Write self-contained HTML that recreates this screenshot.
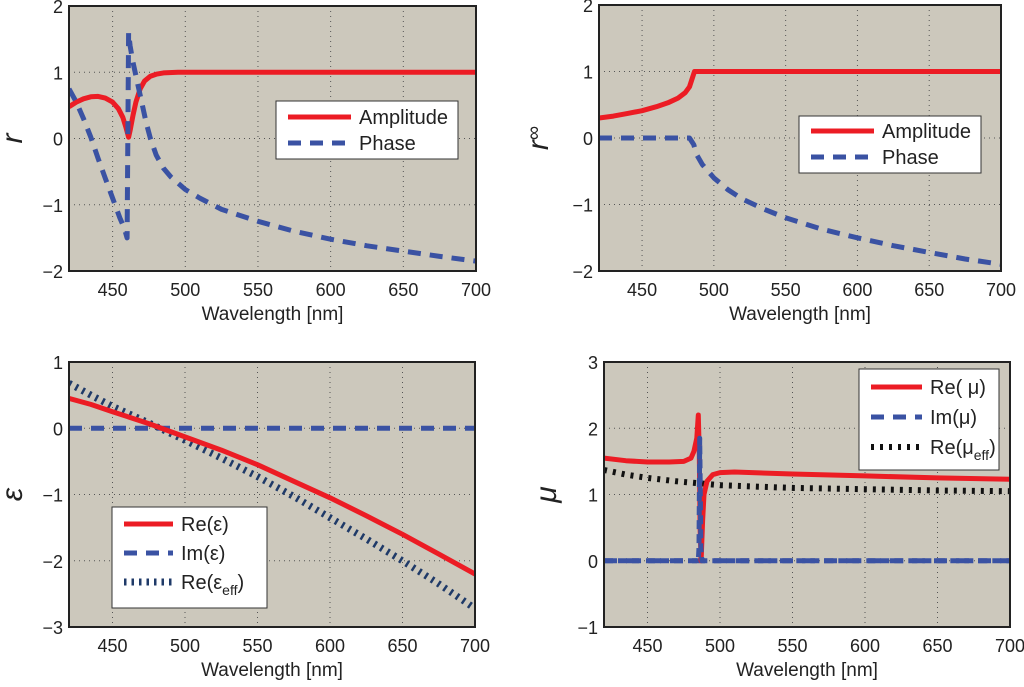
<!DOCTYPE html>
<html><head><meta charset="utf-8"><style>
body{margin:0;background:#fff;font-family:"Liberation Sans",sans-serif}
svg text{font-family:"Liberation Sans","DejaVu Sans",sans-serif;fill:#222}
</style></head><body>
<svg id="fig" width="1024" height="682" viewBox="0 0 1024 682" xmlns="http://www.w3.org/2000/svg"></svg>
<script>
// ---- data ----
const tlAmpX=[420,425,430,435,440,445,450,454,457,459,461,462,464,466,469,472,476,480,485,495,700];
const tlAmpY=[0.48,0.55,0.6,0.63,0.635,0.61,0.55,0.45,0.32,0.18,0.02,0.12,0.35,0.55,0.75,0.87,0.94,0.97,0.99,1,1];
const tlPhX=[420,425,430,435,440,445,450,455,458,460,461,462,464,467,470,473,476,480,485,490,500,510,525,550,575,600,625,650,675,700];
const tlPhY=[0.75,0.55,0.3,0.02,-0.3,-0.6,-0.9,-1.2,-1.35,-1.5,1.6,1.4,1.15,0.85,0.55,0.25,0.0,-0.25,-0.45,-0.58,-0.77,-0.9,-1.07,-1.25,-1.4,-1.52,-1.62,-1.7,-1.78,-1.85];
const trAmpX=[420,430,440,450,460,468,475,480,483,485,486.5,700];
const trAmpY=[0.3,0.33,0.37,0.41,0.47,0.53,0.6,0.68,0.77,0.9,1,1];
const trPhX=[420,483,486,488,492,500,510,520,535,550,575,600,625,650,675,700];
const trPhY=[0,0,-0.1,-0.25,-0.4,-0.6,-0.78,-0.92,-1.07,-1.2,-1.37,-1.5,-1.62,-1.72,-1.82,-1.9];
const blReX=[420,435,450,475,500,525,550,575,600,625,650,675,700];
const blReY=[0.45,0.36,0.25,0.07,-0.13,-0.33,-0.55,-0.8,-1.05,-1.32,-1.6,-1.9,-2.2];
const blImX=[420,700];
const blImY=[0,0];
const blEffX=[420,435,450,475,500,525,550,575,600,625,650,675,700];
const blEffY=[0.68,0.5,0.33,0.08,-0.18,-0.45,-0.73,-1.03,-1.35,-1.67,-2.0,-2.35,-2.72];
const brReX=[420,435,450,465,475,480,482,484,485,485.7,486.3,487,488,489,491,495,500,510,550,600,650,700];
const brReY=[1.55,1.51,1.49,1.49,1.5,1.55,1.65,1.85,2.2,1.6,0.5,0.0,0.6,1.0,1.2,1.3,1.33,1.34,1.31,1.28,1.25,1.23];
const brImX=[420,485,485.5,486,486.8,487.5,700];
const brImY=[0,0,0.2,1.85,0.2,0,0];
const brEffX=[420,435,450,470,485,500,525,550,600,650,700];
const brEffY=[1.37,1.3,1.25,1.2,1.17,1.14,1.12,1.1,1.08,1.06,1.05];
const xTicks=[450,500,550,600,650,700];

const NS="http://www.w3.org/2000/svg";
const svg=document.getElementById('fig');
function mk(tag,attrs,parent){const e=document.createElementNS(NS,tag);for(const k in attrs)e.setAttribute(k,attrs[k]);(parent||svg).appendChild(e);return e;}
const RED={stroke:'#ec1c24','stroke-width':5};
const BLUE={stroke:'#3a52a3','stroke-width':5,'stroke-dasharray':'13,9'};
const NAVY={stroke:'#1f3a68','stroke-width':7,'stroke-dasharray':'2.5,5'};
const BLACK={stroke:'#111','stroke-width':6,'stroke-dasharray':'3,6'};

function panel(id,L,R,T,B,ymin,ymax,yticks,series,legend,ylab){
  const g=mk('g',{});
  
  
  const sx=v=>L+(v-420)/(700-420)*(R-L);
  const sy=v=>T+(ymax-v)/(ymax-ymin)*(B-T);
  mk('rect',{x:L,y:T,width:R-L,height:B-T,fill:'#ccc8bc'},g);
  xTicks.forEach(t=>{const x=sx(t);if(t<700){const l=mk('line',{x1:x,x2:x,y1:T,y2:B,stroke:'#555','stroke-width':1,'stroke-dasharray':'1,4'},g);}
    const tx=mk('text',{x:x,y:B+25,'font-size':18,'text-anchor':'middle'},g);tx.textContent=t;
    });
  yticks.forEach(t=>{const y=sy(t);if(t>ymin&&t<ymax){const l=mk('line',{x1:L,x2:R,y1:y,y2:y,stroke:'#555','stroke-width':1,'stroke-dasharray':'1,4'},g);}
    const tx=mk('text',{x:L-6,y:y+7,'font-size':18,'text-anchor':'end'},g);tx.textContent=(t<0?'\u2212'+(-t):t);
    });
  const cp=mk('clipPath',{id:'c'+id},g);mk('rect',{x:L,y:T,width:R-L,height:B-T},cp);
  series.forEach(s=>{const d=s.x.map((v,i)=>(i?'L':'M')+sx(v).toFixed(1)+','+sy(s.y[i]).toFixed(1)).join(' ');
    const p=mk('path',Object.assign({d:d,fill:'none','clip-path':'url(#c'+id+')','stroke-linejoin':'round'},s.st),g);
    });
  mk('rect',{x:L,y:T,width:R-L,height:B-T,fill:'none',stroke:'#222','stroke-width':2},g);
  const xl=mk('text',{x:(L+R)/2,y:B+49,'font-size':19,'text-anchor':'middle'},g);xl.textContent='Wavelength [nm]';
  
  const yl=mk('text',{x:0,y:0,'font-size':30,'font-style':'italic','text-anchor':'middle',transform:`translate(${ylab.x},${(T+B)/2}) rotate(-90)`},g);
  yl.innerHTML=ylab.html;
  
  const lg=mk('g',{},g);
  
  
  mk('rect',{x:legend.x,y:legend.y,width:legend.w,height:legend.h,fill:'#fff',stroke:'#333','stroke-width':1},lg);
  legend.items.forEach((it,i)=>{const yy=legend.y+legend.top+i*legend.step;
    const ln=mk('line',Object.assign({x1:legend.x+12,x2:legend.x+legend.lw,y1:yy,y2:yy},it.st),lg);
    
    const t=mk('text',{x:legend.x+legend.lw+8,y:yy+7,'font-size':20},lg);t.innerHTML=it.label;
    });
}
panel('panel-r',69,476,6,271,-2,2,[-2,-1,0,1,2],
 [{x:tlAmpX,y:tlAmpY,st:RED,name:'amplitude-line'},{x:tlPhX,y:tlPhY,st:BLUE,name:'phase-line'}],
 {x:276,y:101,w:182,h:58,top:16,step:26,lw:75,items:[{st:RED,label:'Amplitude'},{st:BLUE,label:'Phase'}]},
 {x:22,html:'r'});
panel('panel-r-inf',599,1001,5,271,-2,2,[-2,-1,0,1,2],
 [{x:trAmpX,y:trAmpY,st:RED,name:'amplitude-line'},{x:trPhX,y:trPhY,st:BLUE,name:'phase-line'}],
 {x:799,y:116,w:182,h:57,top:15,step:26,lw:75,items:[{st:RED,label:'Amplitude'},{st:BLUE,label:'Phase'}]},
 {x:548,html:'r<tspan font-size="20" font-style="normal" dy="-8">∞</tspan>'});
panel('panel-epsilon',69,475,362,627,-3,1,[-3,-2,-1,0,1],
 [{x:blImX,y:blImY,st:BLUE,name:'im-eps-line'},{x:blEffX,y:blEffY,st:NAVY,name:'re-eps-eff-line'},{x:blReX,y:blReY,st:RED,name:'re-eps-line'}],
 {x:112,y:507,w:155,h:101,top:17,step:29,lw:61,items:[{st:RED,label:'Re(ε)'},{st:BLUE,label:'Im(ε)'},{st:NAVY,label:'Re(ε<tspan font-size="14" dy="6">eff</tspan><tspan dy="-6">)</tspan>'}]},
 {x:22,html:'ε'});
panel('panel-mu',604,1010,362,627,-1,3,[-1,0,1,2,3],
 [{x:[420,700],y:[0,0],st:BLUE,name:'im-mu-baseline'},{x:brEffX,y:brEffY,st:BLACK,name:'re-mu-eff-line'},{x:brReX,y:brReY,st:RED,name:'re-mu-line'},{x:brImX,y:brImY,st:{stroke:'#3a52a3','stroke-width':5,'stroke-dasharray':'9,5'},name:'im-mu-line'}],
 {x:859,y:369,w:140,h:101,top:18,step:30,lw:63,items:[{st:RED,label:'Re( μ)'},{st:BLUE,label:'Im(μ)'},{st:BLACK,label:'Re(μ<tspan font-size="14" dy="6">eff</tspan><tspan dy="-6">)</tspan>'}]},
 {x:556,html:'μ'});
</script>
</body></html>
